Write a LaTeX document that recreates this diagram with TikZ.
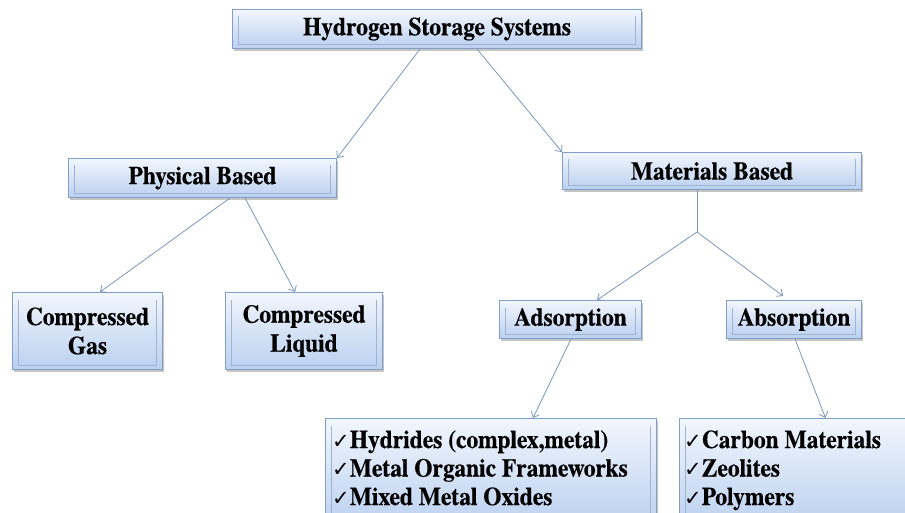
\documentclass[tikz,border=0pt]{standalone}
\usepackage{fontspec}
\setmainfont{texgyretermes}[Extension=.otf, UprightFont=*-regular, BoldFont=*-bold, ItalicFont=*-italic, BoldItalicFont=*-bolditalic, BoldFeatures={FakeStretch=0.92, FakeBold=0.5}]
\newfontfamily\symfont{DejaVu Sans}
\usetikzlibrary{arrows.meta,shadows,calc}
\definecolor{boxtop}{RGB}{242,246,253}
\definecolor{boxbot}{RGB}{186,208,240}
\definecolor{boxedge}{RGB}{128,158,200}
\definecolor{innerline}{RGB}{160,180,210}
\definecolor{arrowcol}{RGB}{122,150,190}
\newcommand{\chk}{{\symfont\fontsize{21}{21}\selectfont ✓}}
\begin{document}
\begin{tikzpicture}[x=1pt,y=-1pt,
  box/.style={rectangle, draw=boxedge, line width=1pt, top color=boxtop, bottom color=boxbot,
    drop shadow={shadow xshift=1.5pt, shadow yshift=-2.5pt, fill=black!50, opacity=0.45},
    inner sep=0pt, font=\fontsize{25.5}{29}\selectfont\bfseries, align=center,
    path picture={\draw[innerline, line width=0.7pt]
      ([xshift=6pt,yshift=-7pt]path picture bounding box.north west) --
      ([xshift=6pt,yshift=4pt]path picture bounding box.south west) --
      ([xshift=-6pt,yshift=4pt]path picture bounding box.south east) --
      ([xshift=-6pt,yshift=-7pt]path picture bounding box.north east);}},
  listtxt/.style={inner sep=0pt, font=\fontsize{25.5}{28.5}\selectfont\bfseries},
  arr/.style={draw=arrowcol, line width=0.8pt, -{Straight Barb[length=5pt,width=9pt]}},
  link/.style={draw=arrowcol, line width=0.8pt}
]
\path[use as bounding box] (0,0) rectangle (905,513);
\clip (0,0) rectangle (905,513);
\fill[white] (0,0) rectangle (905,513);

\node[box, minimum width=409pt, minimum height=39pt] (top) at (437,29) {Hydrogen Storage Systems};
\node[box, minimum width=268pt, minimum height=39pt] (phys) at (202.5,178) {Physical Based};
\node[box, minimum width=299pt, minimum height=37pt] (mat) at (712,171) {Materials Based};
\node[box, minimum width=150pt, minimum height=77pt] (gas) at (87.5,331) {Compressed\\Gas};
\node[box, minimum width=157pt, minimum height=77pt] (liq) at (304,331) {Compressed\\Liquid};
\node[box, minimum width=142pt, minimum height=38pt] (ads) at (570.5,319.5) {Adsorption};
\node[box, minimum width=135pt, minimum height=38pt] (abs) at (794,319.5) {Absorption};
\node[box, anchor=north west, minimum width=331pt, minimum height=110pt] (adslist) at (325,418) {};
\node[box, anchor=north west, minimum width=240pt, minimum height=110pt] (abslist) at (679,418) {};

\node[listtxt, anchor=base west] (a1) at (332,448) {\chk Hydrides (complex,metal)};
\node[listtxt, anchor=base west] (a2) at (332,476.5) {\chk Metal Organic Frameworks};
\node[listtxt, anchor=base west] (a3) at (332,505) {\chk Mixed Metal Oxides};
\node[listtxt, anchor=base west] (b1) at (684,448) {\chk Carbon Materials};
\node[listtxt, anchor=base west] (b2) at (684,476.5) {\chk Zeolites};
\node[listtxt, anchor=base west] (b3) at (684,505) {\chk Polymers};

\coordinate (j) at (697,232);

\draw[arr] ([xshift=-17pt]top.south) -- (phys.north east);
\draw[arr] ([xshift=40pt]top.south) -- (mat.north west);
\draw[arr] ([xshift=27.5pt]phys.south) -- ([xshift=12.5pt]gas.north);
\draw[arr] ([xshift=42.5pt]phys.south) -- ([xshift=-9pt]liq.north);
\draw[link] ([xshift=-15pt]mat.south) -- (j);
\draw[arr] (j) -- ([xshift=26.5pt]ads.north);
\draw[arr] (j) -- ([xshift=-11pt,yshift=4pt]abs.north);
\draw[arr] ([xshift=0.5pt]ads.south) -- ([xshift=42pt]adslist.north);
\draw[arr] ([xshift=1pt]abs.south) -- ([xshift=26pt]abslist.north);
\end{tikzpicture}
\end{document}
